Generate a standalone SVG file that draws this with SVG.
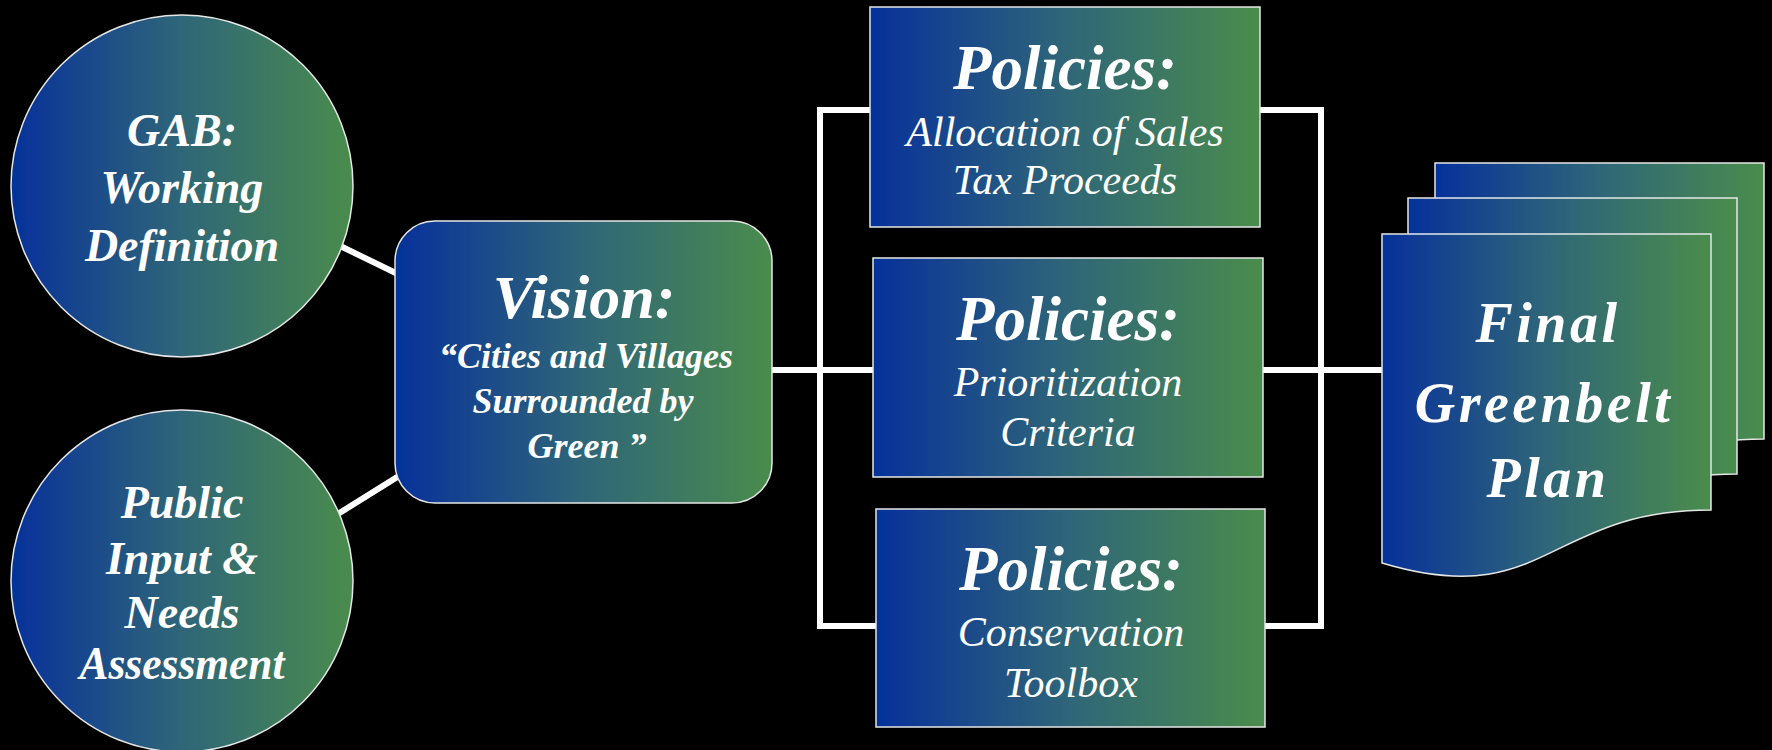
<svg xmlns="http://www.w3.org/2000/svg" width="1772" height="750" viewBox="0 0 1772 750">
  <defs>
    <linearGradient id="bg" x1="0" y1="0" x2="1" y2="0">
      <stop offset="0" stop-color="#003399"/>
      <stop offset="0.045" stop-color="#0b3597"/>
      <stop offset="0.5" stop-color="#2f6678"/>
      <stop offset="1" stop-color="#4a8c4c"/>
    </linearGradient>
    <style>
      .shape { fill: url(#bg); stroke: #e6e6e6; stroke-width: 1.5; }
      .wire { fill: none; stroke: #ffffff; stroke-width: 6; stroke-linejoin: miter; stroke-linecap: square; }
      .title { font-family: "Liberation Serif", "Times New Roman", serif; font-weight: bold; font-style: italic; fill: #ffffff; text-anchor: middle; }
      .sub { font-family: "Liberation Serif", "Times New Roman", serif; font-style: italic; fill: #ffffff; text-anchor: middle; }
    </style>
  </defs>

  <rect x="0" y="0" width="1772" height="750" fill="#000000"/>

  <!-- connectors -->
  <g id="connectors">
    <line class="wire" x1="330" y1="241" x2="410" y2="280" stroke-linecap="butt"/>
    <line class="wire" x1="325" y1="522" x2="415" y2="466" stroke-linecap="butt"/>
    <line class="wire" x1="772" y1="370" x2="1382" y2="370" stroke-linecap="butt"/>
    <polyline class="wire" points="872,110 820,110 820,626 878,626"/>
    <polyline class="wire" points="1258,110 1321,110 1321,626 1263,626"/>
  </g>

  <!-- input circles -->
  <g id="node-gab">
    <circle class="shape" cx="182" cy="186" r="171"/>
    <text class="title" x="182" y="146" font-size="46">GAB:</text>
    <text class="title" x="182" y="203" font-size="46">Working</text>
    <text class="title" x="182" y="261" font-size="46">Definition</text>
  </g>

  <g id="node-public">
    <circle class="shape" cx="182" cy="581" r="171"/>
    <text class="title" x="182" y="518" font-size="46">Public</text>
    <text class="title" x="182" y="574" font-size="46">Input &amp;</text>
    <text class="title" x="182" y="628" font-size="46">Needs</text>
    <text class="title" x="182" y="679" font-size="46" textLength="205" lengthAdjust="spacingAndGlyphs">Assessment</text>
  </g>

  <!-- vision -->
  <g id="node-vision">
    <rect class="shape" x="395" y="221" width="377" height="282" rx="40" ry="40" stroke="#ffffff"/>
    <text class="title" x="584" y="318" font-size="62">Vision:</text>
    <text class="title" x="586" y="368" font-size="36">“Cities and Villages</text>
    <text class="title" x="583" y="413" font-size="36">Surrounded by</text>
    <text class="title" x="587" y="458" font-size="36">Green ”</text>
  </g>

  <!-- policy boxes -->
  <g id="node-policy-sales">
    <rect class="shape" x="870" y="7" width="390" height="220"/>
    <text class="title" x="1065" y="89" font-size="63">Policies:</text>
    <text class="sub" x="1065" y="146" font-size="42">Allocation of Sales</text>
    <text class="sub" x="1065" y="194" font-size="42">Tax Proceeds</text>
  </g>

  <g id="node-policy-priority">
    <rect class="shape" x="873" y="258" width="390" height="219"/>
    <text class="title" x="1068" y="340" font-size="63">Policies:</text>
    <text class="sub" x="1068" y="396" font-size="42">Prioritization</text>
    <text class="sub" x="1068" y="446" font-size="42">Criteria</text>
  </g>

  <g id="node-policy-toolbox">
    <rect class="shape" x="876" y="509" width="389" height="218"/>
    <text class="title" x="1071" y="590" font-size="63">Policies:</text>
    <text class="sub" x="1071" y="646" font-size="42">Conservation</text>
    <text class="sub" x="1071" y="697" font-size="42">Toolbox</text>
  </g>

  <!-- final plan: stacked document sheets -->
  <g id="node-final-plan">
    <path class="shape" transform="translate(53,-71)" d="M1382,234 H1711 V510 C1546,510 1546,612 1382,563 Z"/>
    <path class="shape" transform="translate(26,-36)" d="M1382,234 H1711 V510 C1546,510 1546,612 1382,563 Z"/>
    <path class="shape" d="M1382,234 H1711 V510 C1546,510 1546,612 1382,563 Z"/>
    <text class="title" x="1548" y="342" font-size="56" letter-spacing="3.5">Final</text>
    <text class="title" x="1544" y="422" font-size="56" letter-spacing="3.5">Greenbelt</text>
    <text class="title" x="1548" y="497" font-size="56" letter-spacing="3.5">Plan</text>
  </g>
</svg>
